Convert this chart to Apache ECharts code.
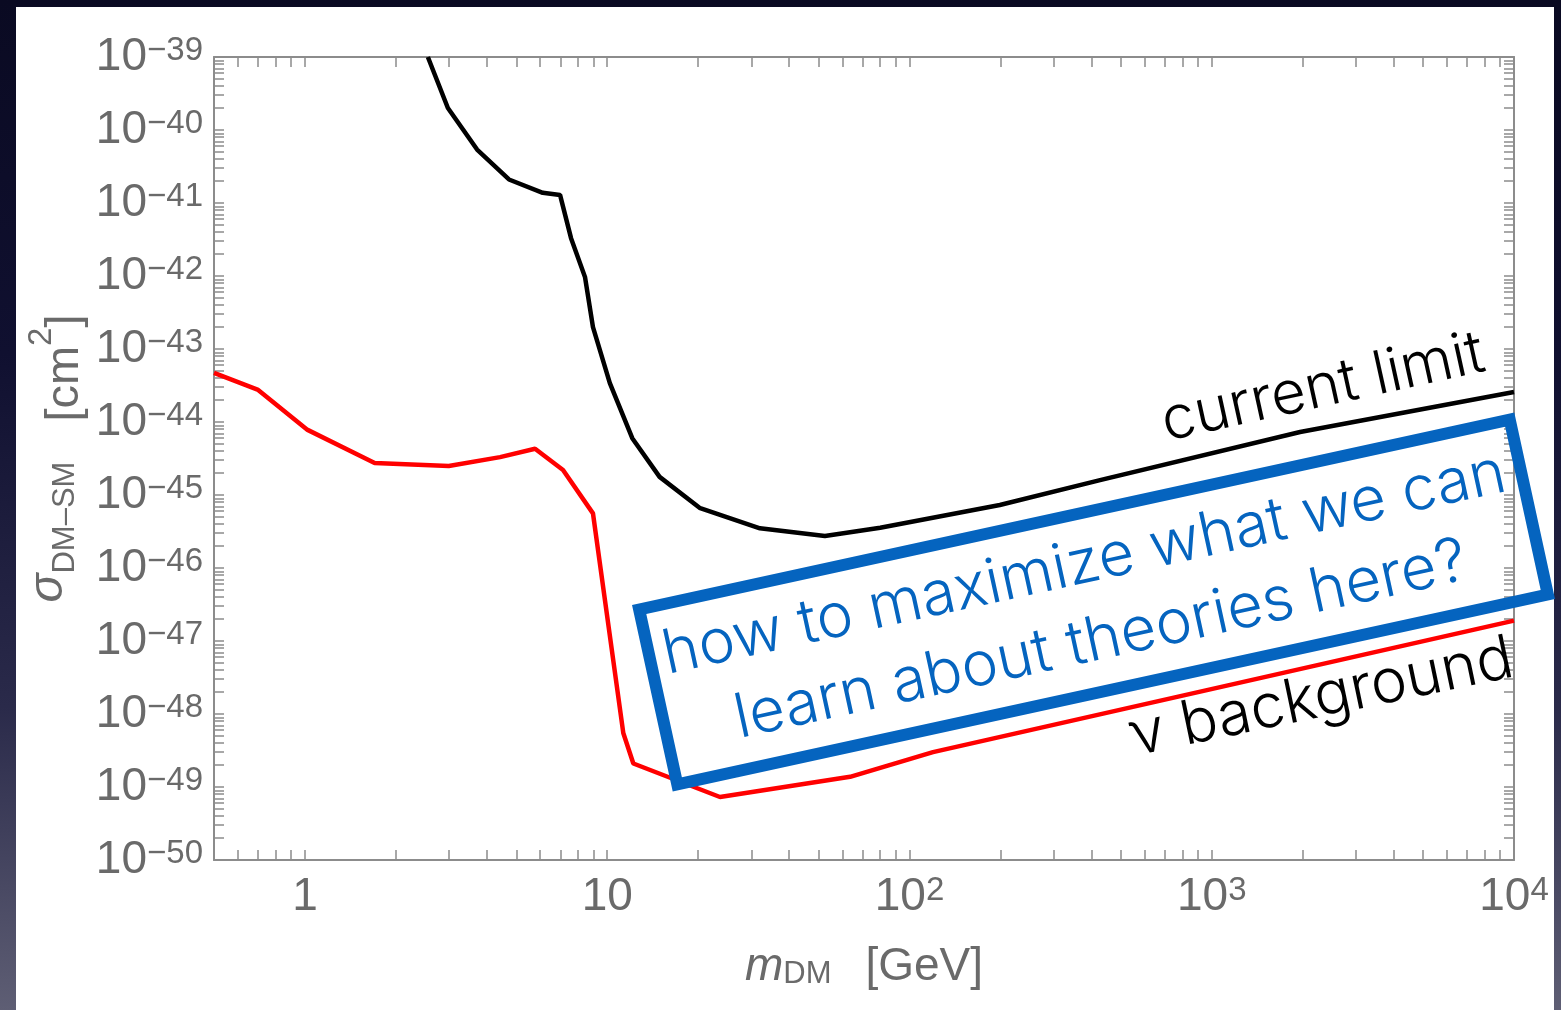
<!DOCTYPE html>
<html>
<head>
<meta charset="utf-8">
<script src="https://cdn.jsdelivr.net/npm/echarts@6/dist/echarts.min.js"></script>
<style>
  html, body { margin: 0; padding: 0; width: 1561px; height: 1010px; overflow: hidden; }
  body {
    position: relative;
    background: linear-gradient(to bottom, #0a0a22 0%, #101030 35%, #2a2a4a 70%, #5e5e74 100%);
  }
  #panel { position: absolute; left: 16px; top: 7px; width: 1538px; height: 1003px; background: #fff; }
  #chart { position: absolute; left: 0; top: 0; width: 1561px; height: 1010px; }
</style>
</head>
<body>
<div id="panel"></div>
<div id="chart"></div>
<script>
// Current direct-detection limit: dark-matter mass [GeV] vs cross-section [cm^2]
const limitMass  = [2.55, 2.97, 3.71, 4.73, 6.12, 6.98, 7.59, 8.44, 8.97, 10.2, 12.1, 14.9, 20.3, 32.0, 52.5, 80, 199, 427, 1960, 10000];
const limitSigma = [1e-39, 2.0e-40, 5.4e-41, 2.1e-41, 1.38e-41, 1.29e-41, 3.3e-42, 9.7e-43, 2.0e-43, 3.4e-44, 6.0e-45, 1.77e-45, 6.6e-46, 3.5e-46, 2.75e-46, 3.55e-46, 7.3e-46, 1.6e-45, 7.3e-45, 2.57e-44];

// Neutrino background floor
const nuMass  = [0.5, 0.70, 1.02, 1.70, 2.99, 4.42, 5.77, 7.14, 8.97, 11.3, 12.2, 23.6, 63.6, 119.6, 10000];
const nuSigma = [4.7e-44, 2.75e-44, 7.8e-45, 2.75e-45, 2.5e-45, 3.3e-45, 4.3e-45, 2.2e-45, 5.6e-46, 5.5e-49, 2.1e-49, 7.3e-50, 1.38e-49, 3.0e-49, 1.9e-47];

// Labelled decades (exponents of ten)
const massDecades  = [0, 1, 2, 3, 4];
const sigmaDecades = [-50, -49, -48, -47, -46, -45, -44, -43, -42, -41, -40, -39];
const minorSteps   = [2, 3, 4, 5, 6, 7, 8, 9];

const massMin = 0.5, massMax = 1e4;

// Both axes run in log10 units; ticks sit at k * 10^n
const lg = Math.log10;
function logTicks(decades, lo, hi) {
  const out = [];
  for (let n = decades[0] - 1; n <= decades[decades.length - 1]; n++) {
    out.push(n);
    minorSteps.forEach(k => out.push(n + lg(k)));
  }
  return out.filter(v => v >= lo - 1e-9 && v <= hi + 1e-9);
}
const xLo = lg(massMin), xHi = lg(massMax);
const yLo = sigmaDecades[0], yHi = sigmaDecades[sigmaDecades.length - 1];
const xTicks = logTicks(massDecades, xLo, xHi);
const yTicks = logTicks(sigmaDecades, yLo, yHi);

const FONT = '"Liberation Sans", Arial, sans-serif';
const LIGHT = 'Inter, "Liberation Sans", Arial, sans-serif';
const AXIS_GREY = '#8c8c8c';
const TEXT_GREY = '#6a6a6a';

const powRich = {
  b: { fontSize: 46, lineHeight: 46, fontFamily: FONT, color: TEXT_GREY },
  s: { fontSize: 33, lineHeight: 18, verticalAlign: 'top', fontFamily: FONT, color: TEXT_GREY }
};
function powLabel(v) {
  const n = Math.round(v);
  if (n === 0) return '{b|1}';
  if (n === 1) return '{b|10}';
  const e = n < 0 ? '\u2212' + (-n) : String(n);
  return '{b|10}{s|' + e + '}';
}

const axisLine = { show: true, onZero: false, lineStyle: { color: AXIS_GREY, width: 2 } };
function ticks(values) {
  return { show: true, inside: true, length: 10, customValues: values, lineStyle: { color: AXIS_GREY, width: 1.5 } };
}

const toPoints = (xs, ys) => xs.map((x, i) => [lg(x), lg(ys[i])]);
const deg = d => d * Math.PI / 180;

const chart = echarts.init(document.getElementById('chart'), null, { renderer: 'canvas' });

chart.setOption({
  backgroundColor: 'transparent',
  animation: false,
  grid: { left: 214, top: 57, right: 47, bottom: 150, containLabel: false, outerBoundsMode: 'none' },
  xAxis: [
    {
      type: 'value', min: xLo, max: xHi, position: 'bottom',
      axisLine, axisTick: ticks(xTicks), splitLine: { show: false },
      axisLabel: { customValues: massDecades, margin: 14, formatter: powLabel, rich: powRich },
      name: '{i|m}{sub|DM}{t|[GeV]}',
      nameLocation: 'middle', nameGap: 84, nameMoveOverlap: false,
      nameTextStyle: {
        rich: {
          i: { fontSize: 46, lineHeight: 46, fontStyle: 'italic', fontFamily: FONT, color: TEXT_GREY },
          sub: { fontSize: 31, lineHeight: 30, verticalAlign: 'bottom', fontFamily: FONT, color: TEXT_GREY },
          t: { fontSize: 46, lineHeight: 46, fontFamily: FONT, color: TEXT_GREY, padding: [0, 0, 0, 34] }
        }
      }
    },
    {
      type: 'value', min: xLo, max: xHi, position: 'top',
      axisLine, axisTick: ticks(xTicks), splitLine: { show: false },
      axisLabel: { show: false }
    }
  ],
  yAxis: [
    {
      type: 'value', min: yLo, max: yHi, position: 'left',
      axisLine, axisTick: ticks(yTicks), splitLine: { show: false },
      axisLabel: { customValues: sigmaDecades, margin: 11, formatter: powLabel, rich: powRich },
      name: '{i|\u03C3}{sub|DM\u2013SM}{t|[cm}{sup|2}{t2|]}',
      nameLocation: 'middle', nameGap: 109, nameMoveOverlap: false,
      nameTextStyle: {
        rich: {
          i: { fontSize: 48, lineHeight: 56, verticalAlign: 'top', fontStyle: 'italic', fontFamily: FONT, color: TEXT_GREY },
          sub: { fontSize: 31, lineHeight: 80, fontFamily: FONT, color: TEXT_GREY },
          t: { fontSize: 47, lineHeight: 80, fontFamily: FONT, color: TEXT_GREY, padding: [0, 0, 0, 40] },
          t2: { fontSize: 47, lineHeight: 80, fontFamily: FONT, color: TEXT_GREY },
          sup: { fontSize: 33, lineHeight: 20, verticalAlign: 'top', fontFamily: FONT, color: TEXT_GREY }
        }
      }
    },
    {
      type: 'value', min: yLo, max: yHi, position: 'right',
      axisLine, axisTick: ticks(yTicks), splitLine: { show: false },
      axisLabel: { show: false }
    }
  ],
  series: [
    {
      name: 'current limit', type: 'line', xAxisIndex: 0, yAxisIndex: 0,
      data: toPoints(limitMass, limitSigma),
      showSymbol: false, clip: true,
      lineStyle: { color: '#000000', width: 4.5 }, z: 5
    },
    {
      name: 'neutrino background', type: 'line', xAxisIndex: 0, yAxisIndex: 0,
      data: toPoints(nuMass, nuSigma),
      showSymbol: false, clip: true,
      lineStyle: { color: '#ff0000', width: 4.5 }, z: 4
    }
  ],
  graphic: [
    {
      type: 'text', x: 1323, y: 388, rotation: deg(12.4), z: 100,
      style: { text: 'current limit', fill: '#000', fontSize: 60, fontFamily: LIGHT, fontWeight: 300, align: 'center', verticalAlign: 'middle' }
    },
    {
      type: 'text', x: 1321, y: 698, rotation: deg(11.8), z: 100,
      style: { text: '\u03BD background', fill: '#000', fontSize: 61, fontFamily: LIGHT, fontWeight: 300, align: 'center', verticalAlign: 'middle' }
    },
    {
      type: 'group', x: 1093.5, y: 602, rotation: deg(12.3), z: 110,
      children: [
        {
          type: 'rect', z: 110,
          shape: { x: -445.5, y: -89.5, width: 891, height: 179 },
          style: { fill: 'rgba(255,255,255,0)', stroke: '#0564bf', lineWidth: 12 }
        },
        {
          type: 'text', x: -1, y: 0, z: 111,
          style: {
            text: 'how to maximize what we can\nlearn about theories here?',
            fill: '#0564bf', fontSize: 61.5, fontFamily: LIGHT, fontWeight: 300,
            lineHeight: 78, align: 'center', verticalAlign: 'middle'
          }
        }
      ]
    }
  ]
});
</script>
</body>
</html>
